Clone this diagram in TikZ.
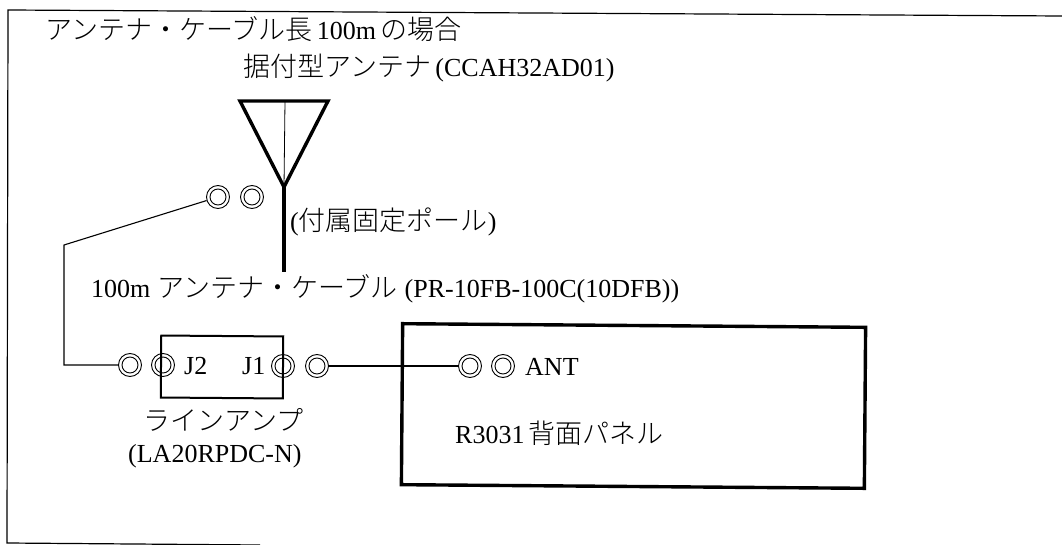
\documentclass[tikz,border=0pt]{standalone}
\usepackage{fontspec}
\setmainfont{Liberation Serif}
\newfontfamily\cjk{Noto Sans CJK JP Light}
\tikzset{
  conn/.style={circle,draw,line width=0.9pt,minimum size=23pt,inner sep=0pt},
  conninner/.style={circle,draw,line width=0.9pt,minimum size=16pt,inner sep=0pt},
  label/.style={inner sep=0pt,anchor=base west,font=\fontsize{26}{26}\selectfont},
  wire/.style={line width=1.1pt},
}
\newcommand{\jp}[1]{{\fontsize{27}{27}\selectfont\cjk #1}}
\begin{document}
\begin{tikzpicture}[x=1pt,y=-1pt]
\useasboundingbox (0,0) rectangle (1062,545);
\fill[white] (0,0) rectangle (1062,545);
\coordinate (f1) at (8,10);
\coordinate (f2) at (1062,16);
\coordinate (f3) at (7,543);
\coordinate (f4) at (260,545);
\draw[line width=1.2pt] (f2) -- (f1) -- (f3) -- (f4);
\node[label] (title) at (45,40) {\jp{アンテナ・ケーブル長}\,100m\,\jp{の場合}};
\node[label] (antlabel) at (243,77) {\jp{据付型アンテナ}\,(CCAH32AD01)};
\coordinate (tl) at (240,101);
\coordinate (tr) at (328,101);
\coordinate (tip) at (284,187);
\coordinate (pole) at (284,272);
\coordinate (topmid) at (285,101);
\draw[line width=3.4pt] (tl) -- (tr) -- (tip) -- cycle;
\draw[line width=0.8pt] (topmid) -- (tip);
\draw[line width=4.2pt] (tip) -- (pole);
\node[conn] (a1) at (218,197) {};
\node[conninner] at (218,197) {};
\node[conn] (a2) at (252,197) {};
\node[conninner] at (252,197) {};
\node[label] (polelabel) at (290,231) {(\jp{付属固定ポール})};
\node[label] (cablelabel) at (91,297) {100m\hspace{7pt}\jp{アンテナ・ケーブル}\hspace{7pt}(PR-10FB-100C(10DFB))};
\node[draw,line width=2pt,minimum width=122pt,minimum height=62pt,inner sep=0pt,rotate=-0.45] (amp) at (222,367) {};
\node[conn] (c1) at (130,365) {};
\node[conninner] at (130,365) {};
\node[conn] (c2) at (163,365) {};
\node[conninner] at (163,365) {};
\node[conn] (c3) at (283,366) {};
\node[conninner] at (283,366) {};
\node[conn] (c4) at (317,366) {};
\node[conninner] at (317,366) {};
\node[conn] (c5) at (470,366) {};
\node[conninner] at (470,366) {};
\node[conn] (c6) at (503,366) {};
\node[conninner] at (503,366) {};
\node[label] (j2) at (184,374) {J2};
\node[label] (j1) at (242,374) {J1};
\node[label] (amplabel) at (143,430) {\jp{ラインアンプ}};
\node[label] (ampmodel) at (128,462) {(LA20RPDC-N)};
\node[draw,line width=3.4pt,minimum width=463pt,minimum height=161pt,inner sep=0pt,rotate=-0.45] (panel) at (633.5,406) {};
\node[label] (ant) at (525,375) {ANT};
\node[label] (r) at (455,443) {R3031\,\jp{背面パネル}};
\coordinate (b1) at (64,245);
\coordinate (b2) at (64,365);
\draw[wire] (a1) -- (b1) -- (b2) -- (c1);
\draw[wire] (c4) -- (c5);
\end{tikzpicture}
\end{document}
